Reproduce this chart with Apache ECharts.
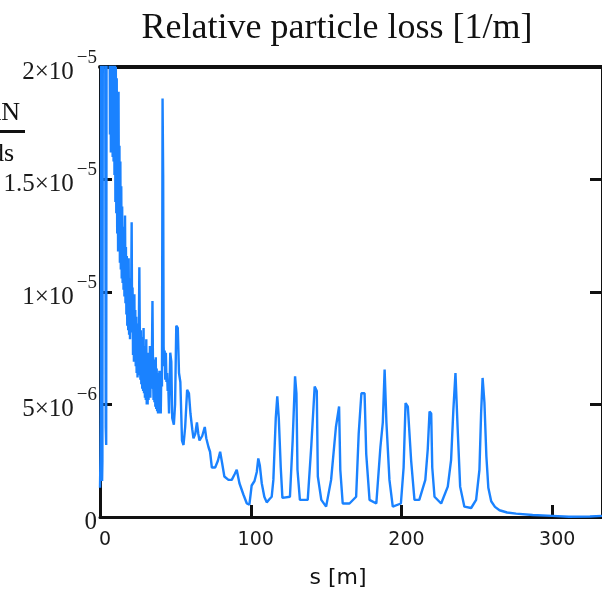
<!DOCTYPE html>
<html><head><meta charset="utf-8">
<script src="https://cdn.jsdelivr.net/npm/echarts@6/dist/echarts.min.js"></script>
<style>html,body{margin:0;padding:0;background:#fff}#c{width:602px;height:590px}</style>
</head><body><div id="c"></div>
<script>
// s [m]
const sValues = [
0,0.3,0.6,0.8,1.2,1.4,1.6,1.9,3.4,3.8,
4.1,4.4,6.3,6.6,6.9,7.2,7.5,7.8,8.1,8.4,
8.7,9.0,9.3,9.6,9.9,10.2,10.5,10.8,11.1,11.4,
11.7,12.0,12.3,12.6,12.9,13.2,13.5,13.8,14.1,14.4,
14.7,15.0,15.3,15.6,15.9,16.2,16.6,16.9,17.2,17.5,
17.8,18.1,18.4,18.7,19.0,19.3,19.6,19.9,20.2,20.5,
21.0,21.3,21.6,21.9,22.2,22.5,22.8,23.1,23.4,23.7,
24.0,24.3,24.6,24.9,25.2,25.5,26.1,26.5,26.8,27.1,
27.4,27.7,28.0,28.3,28.6,28.9,29.2,29.5,29.8,30.1,
30.4,30.7,31.0,31.3,31.6,31.9,32.2,32.5,32.8,33.1,
33.4,33.7,34.0,34.4,34.8,35.2,35.5,35.8,36.1,36.4,
36.7,37.0,37.3,37.6,37.9,38.2,38.5,38.8,39.1,39.4,
39.7,40.0,40.3,40.7,41.1,41.5,41.9,42.2,42.6,42.9,
43.3,43.7,44.1,44.5,44.9,45.3,45.8,46.6,47.3,47.9,
49.0,49.8,50.6,51.6,52.4,53.3,54.4,55.4,56.5,57.8,
59.0,60.0,61.2,62.0,63.2,64.3,65.2,66.0,67.8,69.5,
70.5,72.0,73.0,74.2,76.4,78.2,79.7,81.0,82.5,85.2,
87.4,89.3,90.7,92.5,95.1,97.4,99.1,100.6,102.5,104.0,
105.0,106.0,107.3,109.0,110.6,112.5,113.9,115.0,116.6,117.6,
118.6,119.9,121.0,126.0,127.8,129.4,130.3,131.0,132.6,137.8,
140.2,142.4,143.8,144.5,146.8,150.0,153.3,156.5,158.6,159.4,
161.0,165.5,169.9,171.6,173.4,175.5,176.6,178.8,183.3,186.0,
187.6,188.8,190.0,192.0,194.2,199.6,201.4,202.7,204.2,206.4,
208.6,211.8,215.8,217.4,218.6,219.7,220.4,221.9,226.3,230.7,
232.9,234.4,235.8,237.2,238.9,241.7,246.2,249.5,251.7,252.8,
253.8,255.0,256.3,257.6,259.5,262.0,265.0,270.0,276.0,287.0,
300.0,311.0,325.0,333.0
];
// relative particle loss, in units of 1e-6 per m
const lossValues = [
1.3,2.7,6.0,24,24,1.6,2.5,24,24,4.0,
3.2,24,24,17,23,16.2,24,17.5,22,16.0,
24,15.8,21,15.2,22,14.0,20,13.5,19.5,12.6,
18,11.8,18.9,12.2,16.5,11.3,15.8,11.0,14.7,10.6,
13.8,10.4,12.9,10.1,12.5,9.8,13.4,9.5,12.0,9.0,
11.6,8.5,11.0,8.3,11.5,8.1,10.6,7.9,10.4,8.2,
13.1,8.4,10.2,7.2,9.4,6.9,9.9,7.1,9.2,6.7,
8.9,6.4,8.6,6.2,8.4,6.3,11.1,7.4,6.1,8.3,
5.9,8.0,5.7,7.8,5.6,8.4,5.5,7.6,5.3,7.4,
5.2,7.9,5.0,7.1,5.0,7.3,5.2,6.9,5.4,7.6,
5.3,7.0,5.7,6.9,9.6,6.3,5.2,7.0,5.1,6.8,
4.9,7.1,4.8,6.6,4.7,6.4,4.6,6.3,4.8,6.5,
4.6,5.9,4.6,6.5,5.8,18.6,15.2,7.6,6.7,7.4,
6.1,7.3,6.0,6.4,5.6,5.8,4.6,7.3,6.9,4.4,
4.1,5.0,8.5,8.4,6.4,6.0,3.4,3.2,4.0,5.65,
5.5,4.6,3.9,3.5,3.7,4.2,3.7,3.4,3.6,4.0,
3.5,3.1,2.9,2.2,2.2,2.5,2.9,2.4,1.8,1.65,
1.65,1.9,2.1,1.5,1.0,0.6,0.55,1.4,1.6,2.0,
2.6,2.3,1.5,0.9,0.65,0.8,0.9,1.65,4.4,5.36,
4.4,2.2,0.85,0.9,3.4,6.25,5.5,2.1,0.76,0.76,
3.2,5.8,5.6,1.8,0.76,0.46,1.65,4.0,4.91,2.1,
0.6,0.6,0.9,3.7,5.5,5.5,2.8,0.76,0.6,3.1,
4.2,6.55,4.2,1.65,0.46,0.6,2.2,5.06,4.9,2.5,
0.76,0.76,1.65,3.0,4.69,4.6,2.2,0.9,0.6,1.35,
2.54,4.76,6.4,4.0,1.35,0.46,0.4,0.76,2.1,4.6,
6.18,5.1,2.7,1.3,0.7,0.45,0.3,0.2,0.15,0.09,
0.05,0.01,0.02,0.05
];
const xTickLabels = ['0','100','200','300'];
const yTickMantissa = ['0','5','1','1.5','2'];
const yTickExponent = ['','\u22126','\u22125','\u22125','\u22125'];
const titleText = 'Relative particle loss [1/m]';
const xName = 's [m]';

const chart = echarts.init(document.getElementById('c'), null, {renderer:'canvas'});
const black = '#111';
const axisCommon = {type:'value', splitLine:{show:false}};
chart.setOption({
  animation:false,
  backgroundColor:'#fff',
  grid:{left:100, right:-2, top:67, bottom:73, containLabel:false},
  xAxis:[
    Object.assign({}, axisCommon, {position:'bottom', min:0, max:333, interval:100,
      axisLine:{show:true, onZero:false, lineStyle:{color:black, width:3}},
      axisTick:{show:true, inside:true, length:12, lineStyle:{color:black, width:3}},
      axisLabel:{show:true, margin:14, showMaxLabel:false, fontFamily:'DejaVu Sans', fontSize:19, color:'#1a1a1a', padding:[0,0,0,10],
        formatter:(v)=>{const i=Math.round(v/100); return xTickLabels[i]!==undefined?xTickLabels[i]:'';}}}),
    Object.assign({}, axisCommon, {position:'top', min:0, max:333, interval:100,
      axisLine:{show:true, onZero:false, lineStyle:{color:black, width:4}},
      axisTick:{show:false}, axisLabel:{show:false}})
  ],
  yAxis:[
    Object.assign({}, axisCommon, {position:'left', min:0, max:20, interval:5,
      axisLine:{show:true, onZero:false, lineStyle:{color:black, width:3}},
      axisTick:{show:true, inside:true, length:12, lineStyle:{color:black, width:3}},
      axisLabel:{show:true, margin:3,
        formatter:(v)=>{const i=Math.round(v/5); if(!yTickExponent[i]) return '{b|'+yTickMantissa[i]+'}'; return '{b|'+yTickMantissa[i]+'\u00d710}{s|'+yTickExponent[i]+'}';},
        rich:{
          b:{fontFamily:'Liberation Serif', fontSize:25, color:'#1a1a1a', padding:[10,0,0,0]},
          s:{fontFamily:'Liberation Serif', fontSize:19, color:'#1a1a1a', padding:[0,0,18,3]}
        }}}),
    Object.assign({}, axisCommon, {position:'right', min:0, max:20, interval:5,
      axisLine:{show:true, onZero:false, lineStyle:{color:black, width:3}},
      axisTick:{show:true, inside:true, length:12, lineStyle:{color:black, width:3}},
      axisLabel:{show:false}})
  ],
  series:[{
    type:'line', xAxisIndex:0, yAxisIndex:0, showSymbol:false, clip:true,
    data: sValues.map((s,i)=>[s, lossValues[i]]),
    lineStyle:{color:'#1A82FF', width:2.4},
    z:3
  }],
  graphic:[
    {type:'text', x:337, y:29, style:{text:titleText, font:'36px "Liberation Serif"', fill:black, align:'center', verticalAlign:'middle'}},
    {type:'text', x:338, y:578, style:{text:xName, font:'22px "DejaVu Sans"', fill:black, align:'center', verticalAlign:'middle'}},
    {type:'text', x:20, y:113, style:{text:'dN', font:'26px "Liberation Serif"', fill:black, align:'right', verticalAlign:'middle'}},
    {type:'rect', shape:{x:-15, y:130, width:40, height:3}, style:{fill:black}},
    {type:'text', x:14, y:154, style:{text:'ds', font:'26px "Liberation Serif"', fill:black, align:'right', verticalAlign:'middle'}}
  ]
});
</script></body></html>
